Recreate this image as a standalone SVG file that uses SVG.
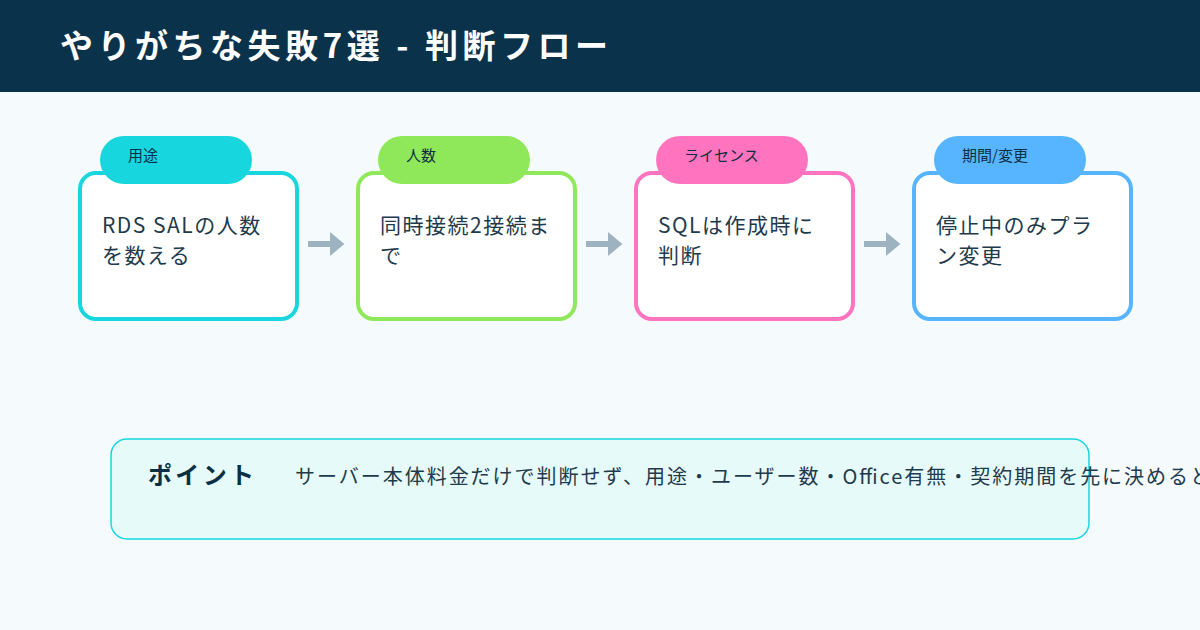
<svg xmlns="http://www.w3.org/2000/svg" width="1200" height="630" viewBox="0 0 1200 630">
<style>
.jp{font-family:"Noto Sans CJK JP","Noto Sans",sans-serif;}
.card{fill:#fff;stroke-width:4;}
.tag{font-size:15px;fill:#0b2f45;}
.body{font-size:21px;fill:#1e3a4c;letter-spacing:1.5px;}
.ar{stroke:#9db3c0;stroke-width:6;fill:none;}
</style>
<defs><marker id="h" markerWidth="4" markerHeight="4" refX="1.5" refY="2" orient="auto" markerUnits="strokeWidth"><path d="M0,0L2.4,2L0,4z" fill="#9db3c0"/></marker></defs>
<rect width="1200" height="630" fill="#f5fafd"/>
<rect width="1200" height="92" fill="#0b324b"/>
<text x="60" y="58" class="jp" font-size="33" font-weight="bold" fill="#fff" textLength="548" lengthAdjust="spacing">やりがちな失敗7選 - 判断フロー</text>
<g id="n1"><rect x="80" y="173" width="217" height="146" rx="16" class="card" stroke="#17d6de"/><rect x="100" y="136" width="152" height="48" rx="24" fill="#17d6de"/><text x="128" y="161" class="jp tag">用途</text><text x="102" y="233" class="jp body">RDS SALの人数</text><text x="102" y="263" class="jp body">を数える</text></g>
<g id="n2"><rect x="358" y="173" width="217" height="146" rx="16" class="card" stroke="#8fe85a"/><rect x="378" y="136" width="152" height="48" rx="24" fill="#8fe85a"/><text x="406" y="161" class="jp tag">人数</text><text x="380" y="233" class="jp body">同時接続2接続ま</text><text x="380" y="263" class="jp body">で</text></g>
<g id="n3"><rect x="636" y="173" width="217" height="146" rx="16" class="card" stroke="#ff73bf"/><rect x="656" y="136" width="152" height="48" rx="24" fill="#ff73bf"/><text x="684" y="161" class="jp tag">ライセンス</text><text x="658" y="233" class="jp body">SQLは作成時に</text><text x="658" y="263" class="jp body">判断</text></g>
<g id="n4"><rect x="914" y="173" width="217" height="146" rx="16" class="card" stroke="#57b5ff"/><rect x="934" y="136" width="152" height="48" rx="24" fill="#57b5ff"/><text x="962" y="161" class="jp tag">期間/変更</text><text x="936" y="233" class="jp body">停止中のみプラ</text><text x="936" y="263" class="jp body">ン変更</text></g>
<g id="connectors"><path d="M308,244H339" class="ar" marker-end="url(#h)"/><path d="M586,244H617" class="ar" marker-end="url(#h)"/><path d="M864,244H895" class="ar" marker-end="url(#h)"/></g>
<g id="point"><rect x="111" y="439" width="978" height="100" rx="16" fill="#e6faf9" stroke="#17d6de" stroke-width="1.5"/><text x="148" y="484" class="jp" font-size="24" font-weight="bold" fill="#0b2f45" textLength="106" lengthAdjust="spacing">ポイント</text><text x="295" y="484" class="jp" font-size="20" fill="#1e3a4c" textLength="915" lengthAdjust="spacing">サーバー本体料金だけで判断せず、用途・ユーザー数・Office有無・契約期間を先に決めると</text></g>
</svg>
